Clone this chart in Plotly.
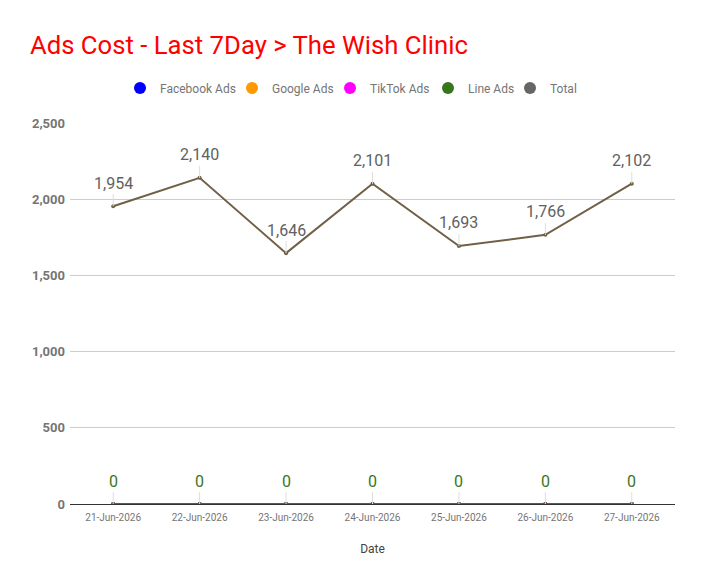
import plotly.graph_objects as go

# data
dates = ['21-Jun-2026', '22-Jun-2026', '23-Jun-2026', '24-Jun-2026',
         '25-Jun-2026', '26-Jun-2026', '27-Jun-2026']
facebook_ads = [0, 0, 0, 0, 0, 0, 0]
google_ads = [0, 0, 0, 0, 0, 0, 0]
tiktok_ads = [0, 0, 0, 0, 0, 0, 0]
line_ads = [0, 0, 0, 0, 0, 0, 0]
total = [1954, 2140, 1646, 2101, 1693, 1766, 2102]

# name, values, legend colour, line colour, legend entry width (px)
series = [
    ('Facebook Ads', facebook_ads, '#0000ff', '#0000ff', 67),
    ('Google Ads', google_ads, '#ff9900', '#ff9900', 53),
    ('TikTok Ads', tiktok_ads, '#ff00ff', '#ff00ff', 53),
    ('Line Ads', line_ads, '#38761d', '#38761d', 37),
    ('Total', total, '#666666', '#6f6047', 28),
]

fig = go.Figure()

for name, vals, legend_color, line_color, lw in series:
    fig.add_trace(go.Scatter(
        x=dates, y=vals, mode='lines+markers', name=name,
        line=dict(color=line_color, width=2),
        marker=dict(size=4, color=line_color),
        showlegend=False, hoverinfo='x+y'))
    # legend-only entry with a round dot
    fig.add_trace(go.Scatter(
        x=[None], y=[None], mode='markers', name=name, legendwidth=lw,
        marker=dict(size=12, color=legend_color)))

# data labels with thin leader lines
annotations = []
for d, v in zip(dates, total):
    annotations.append(dict(x=d, y=v, text=f'{v:,}', showarrow=True,
                            arrowhead=0, arrowwidth=1, arrowcolor='#dddddd',
                            ax=0, ay=-23, font=dict(size=16, color='#616161')))
for d, v in zip(dates, line_ads):
    annotations.append(dict(x=d, y=v, text=f'{v:,}', showarrow=True,
                            arrowhead=0, arrowwidth=1, arrowcolor='#dddddd',
                            ax=0, ay=-23, font=dict(size=16, color='#38761d')))

# page has an 8px body margin, so positions are shifted by -8
fig.update_layout(
    width=704, height=585,
    font=dict(family='Roboto, sans-serif', color='#757575'),
    title=dict(text='Ads Cost - Last 7Day > The Wish Clinic',
               font=dict(size=25.7, color='#ff0000'),
               x=22 / 704, xanchor='left', y=1 - 37 / 585, yanchor='middle'),
    legend=dict(orientation='h', x=50 / 605, xanchor='left',
                y=1.092, yanchor='middle',
                font=dict(size=12, color='#757575'), itemwidth=30),
    margin=dict(l=62, r=37, t=115, b=89),
    plot_bgcolor='white', paper_bgcolor='white',
    annotations=annotations,
    xaxis=dict(type='category', range=[-0.5, 6.5], showgrid=False,
               showline=True, linecolor='#333333', linewidth=1,
               tickfont=dict(size=10, color='#757575'), ticks='',
               ticklabelstandoff=4, tickangle=0,
               title=dict(text='Date', font=dict(size=12, color='#444444'),
                          standoff=22)),
    yaxis=dict(range=[0, 2500], tickvals=[0, 500, 1000, 1500, 2000, 2500],
               tickformat=',', gridcolor='#cccccc', zeroline=False,
               tickfont=dict(size=13, color='#757575', weight='bold'),
               ticklabelstandoff=4),
)

fig.write_html('out.html')
